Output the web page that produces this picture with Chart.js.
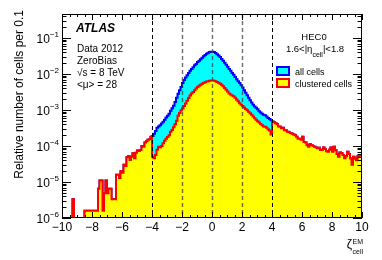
<!DOCTYPE html>
<html>
<head>
<meta charset="utf-8">
<script src="https://cdn.jsdelivr.net/npm/chart.js@4"></script>
<style>
  html, body { margin: 0; padding: 0; background: #fff; }
  canvas { display: block; }
</style>
</head>
<body>
<canvas id="chart" width="382" height="260"></canvas>
<script>
// histogram bins of 0.1 from -10 to 10 (200 bins)
const X_MIN = -10;
const X_MAX = 10;
const BIN_WIDTH = 0.1;
const Y_MIN = 1e-6;
const Y_MAX = 0.464;

// |zeta| > 4: every cell is clustered, so both histograms agree there
const tailLeft = [
  0, 0, 0, 0, 0, 0, 0, 3.3e-6, 0, 0, 0, 0, 0, 0, 0,
  1.6e-6, 1.6e-6, 1.6e-6, 1.6e-6, 1.6e-6, 1.6e-6, 1.6e-6, 1.6e-6, 1.6e-6,
  6.5e-6, 1.1e-5, 1.1e-5, 1.6e-6, 4.9e-6, 1.1e-5, 4.9e-6, 6.5e-6, 6.5e-6, 3.3e-6,
  3.3e-6, 3.3e-6, 1.6e-5, 1.6e-5, 1.3e-5, 2.0e-5, 1.8e-5, 3.0e-5, 2.8e-5, 4.9e-5,
  5.2e-5, 4.1e-5, 5.0e-5, 6.3e-5, 4.6e-5, 6.5e-5, 7.5e-5, 7.3e-5, 7.8e-5, 1.0e-4,
  9.5e-5, 1.25e-4, 1.35e-4, 1.5e-4, 1.55e-4, 1.8e-4
];
const tailRight = [
  4.8e-4, 4.6e-4, 4.3e-4, 4.0e-4, 3.5e-4, 3.4e-4, 3.1e-4, 3.2e-4, 2.75e-4, 2.7e-4,
  2.5e-4, 2.4e-4, 2.3e-4, 2.2e-4, 2.1e-4, 2.0e-4, 1.8e-4, 1.6e-4, 1.6e-4, 1.5e-4,
  1.8e-4, 1.3e-4, 1.26e-4, 1.05e-4, 9.5e-5, 1.12e-4, 1.07e-4, 1.0e-4, 9.5e-5, 9.1e-5,
  8.7e-5, 8.9e-5, 7.8e-5, 7.9e-5, 9.1e-5, 8.3e-5, 7.2e-5, 6.9e-5, 7.9e-5, 9.1e-5,
  6.9e-5, 9.5e-5, 7.6e-5, 6.0e-5, 5.0e-5, 6.6e-5, 6.3e-5, 5.6e-5, 4.6e-5, 5.2e-5,
  6.9e-5, 6.0e-5, 4.5e-5, 3.0e-5, 5.0e-5, 4.4e-5, 4.0e-5, 5.2e-5, 5.6e-5, 5.0e-5
];
// -4 < zeta < 4
const coreAll = [
  1.9e-4, 2.2e-4, 2.6e-4, 3.2e-4, 3.5e-4, 3.8e-4, 4.2e-4, 4.7e-4, 5.4e-4, 6.2e-4,
  6.9e-4, 7.9e-4, 9.5e-4, 1.12e-3, 1.32e-3, 1.66e-3, 2.19e-3, 2.82e-3, 3.55e-3, 4.37e-3,
  5.62e-3, 6.76e-3, 7.94e-3, 9.3e-3, 1.07e-2, 1.23e-2, 1.38e-2, 1.55e-2, 1.74e-2, 1.91e-2,
  2.14e-2, 2.34e-2, 2.57e-2, 2.82e-2, 3.09e-2, 3.39e-2, 3.63e-2, 3.89e-2, 4.07e-2, 4.17e-2,
  4.17e-2, 4.07e-2, 3.80e-2, 3.55e-2, 3.24e-2, 2.95e-2, 2.63e-2, 2.34e-2, 2.04e-2, 1.82e-2,
  1.58e-2, 1.38e-2, 1.23e-2, 1.07e-2, 9.5e-3, 8.3e-3, 7.2e-3, 6.3e-3, 5.6e-3, 4.9e-3,
  4.2e-3, 3.55e-3, 3.0e-3, 2.57e-3, 2.19e-3, 1.86e-3, 1.62e-3, 1.41e-3, 1.26e-3, 1.15e-3,
  1.05e-3, 9.3e-4, 8.5e-4, 7.9e-4, 7.4e-4, 7.1e-4, 6.6e-4, 6.0e-4, 5.6e-4, 5.2e-4
];
const coreClustered = [
  5.0e-5, 4.6e-5, 5.6e-5, 7.9e-5, 9.5e-5, 9.3e-5, 1.0e-4, 1.2e-4, 1.41e-4, 1.58e-4,
  1.78e-4, 2.0e-4, 2.5e-4, 2.8e-4, 3.3e-4, 4.0e-4, 5.0e-4, 6.9e-4, 8.3e-4, 9.8e-4,
  1.1e-3, 1.29e-3, 1.51e-3, 1.82e-3, 2.14e-3, 2.51e-3, 2.88e-3, 3.16e-3, 3.55e-3, 3.98e-3,
  4.37e-3, 4.68e-3, 5.0e-3, 5.4e-3, 5.6e-3, 5.9e-3, 6.2e-3, 6.3e-3, 6.5e-3, 6.6e-3,
  6.6e-3, 6.5e-3, 6.3e-3, 6.0e-3, 5.75e-3, 5.4e-3, 5.0e-3, 4.57e-3, 4.07e-3, 3.63e-3,
  3.24e-3, 2.88e-3, 2.69e-3, 2.51e-3, 2.4e-3, 2.19e-3, 1.95e-3, 1.74e-3, 1.55e-3, 1.41e-3,
  1.29e-3, 1.17e-3, 1.07e-3, 9.8e-4, 8.9e-4, 8.1e-4, 7.4e-4, 6.6e-4, 5.9e-4, 5.4e-4,
  4.9e-4, 4.5e-4, 4.1e-4, 3.8e-4, 3.5e-4, 3.4e-4, 3.2e-4, 2.9e-4, 2.7e-4, 2.1e-4
];

const allCells = tailLeft.concat(coreAll, tailRight);
const clusteredCells = tailLeft.concat(coreClustered, tailRight);

const xTickLabels = [-10, -8, -6, -4, -2, 0, 2, 4, 6, 8, 10];
const yDecades = [-6, -5, -4, -3, -2, -1];
const markerLines = [-4, -2, 0, 2, 4];
const infoLines = ['Data 2012', 'ZeroBias', '\u221As = 8 TeV', '<\u03BC> = 28'];

const FONT = '"Liberation Sans", Arial, Helvetica, sans-serif';

// bin contents -> step points at the bin edges (empty bins sit on the axis)
function toSteps(values) {
  const pts = values.map((v, i) => ({ x: X_MIN + i * BIN_WIDTH, y: v > 0 ? v : Y_MIN }));
  pts.push({ x: X_MIN + values.length * BIN_WIDTH, y: pts[pts.length - 1].y });
  return pts;
}

function minus(n) {
  return n < 0 ? '\u2212' + Math.abs(n) : String(n);
}

const decor = {
  id: 'decor',
  afterDatasetsDraw(chart) {
    const { ctx, chartArea: a, scales: { x, y } } = chart;
    ctx.save();

    // dashed markers
    markerLines.forEach((v) => {
      const px = Math.round(x.getPixelForValue(v)) + 0.5;
      const outer = Math.abs(v) === 4;
      ctx.strokeStyle = outer ? '#000' : 'rgba(60,60,60,0.75)';
      ctx.lineWidth = outer ? 1 : 1.4;
      ctx.setLineDash([4, 3]);
      ctx.beginPath();
      ctx.moveTo(px, a.top);
      ctx.lineTo(px, a.bottom);
      ctx.stroke();
    });
    ctx.setLineDash([]);

    // frame
    ctx.strokeStyle = '#000';
    ctx.lineWidth = 1;
    ctx.strokeRect(a.left + 0.5, a.top + 0.5, a.right - a.left - 1, a.bottom - a.top - 1);

    // x ticks, inside the frame, bottom and top
    ctx.beginPath();
    for (let i = 0; i <= (X_MAX - X_MIN) * 2; i++) {
      const v = X_MIN + i * 0.5;
      const px = Math.round(x.getPixelForValue(v)) + 0.5;
      const len = (i % 4 === 0) ? 6 : 3;
      ctx.moveTo(px, a.bottom);
      ctx.lineTo(px, a.bottom - len);
      ctx.moveTo(px, a.top);
      ctx.lineTo(px, a.top + len);
    }
    // y ticks, left and right
    for (let d = -6; d <= 0; d++) {
      for (let m = 1; m <= 9; m++) {
        const v = m * Math.pow(10, d);
        if (v < Y_MIN || v > Y_MAX) continue;
        const py = Math.round(y.getPixelForValue(v)) + 0.5;
        const len = m === 1 ? 9 : 4.5;
        ctx.moveTo(a.left, py);
        ctx.lineTo(a.left + len, py);
        ctx.moveTo(a.right, py);
        ctx.lineTo(a.right - len, py);
      }
    }
    ctx.stroke();
    ctx.restore();
  },
  afterDraw(chart) {
    const { ctx, chartArea: a, scales: { x, y } } = chart;
    ctx.save();
    ctx.fillStyle = '#000';
    ctx.textBaseline = 'alphabetic';

    // x tick labels
    ctx.font = '12px ' + FONT;
    ctx.textAlign = 'center';
    xTickLabels.forEach((v) => {
      ctx.fillText(minus(v), x.getPixelForValue(v), a.bottom + 13);
    });

    // y tick labels 10^n
    ctx.textAlign = 'left';
    yDecades.forEach((d) => {
      const py = y.getPixelForValue(Math.pow(10, d));
      const sup = minus(d);
      ctx.font = '8px ' + FONT;
      const ws = ctx.measureText(sup).width;
      ctx.font = '12px ' + FONT;
      const wb = ctx.measureText('10').width;
      const right = a.left - 3;
      ctx.fillText('10', right - ws - wb, py + 5);
      ctx.font = '8px ' + FONT;
      ctx.fillText(sup, right - ws, py - 1);
    });

    // y title
    ctx.save();
    ctx.translate(22.5, 10);
    ctx.rotate(-Math.PI / 2);
    ctx.textAlign = 'right';
    ctx.font = '12px ' + FONT;
    ctx.fillText('Relative number of cells per 0.1', 0, 0);
    ctx.restore();

    // x title zeta^EM_cell
    ctx.textAlign = 'left';
    ctx.font = '7px ' + FONT;
    const wScript = Math.max(ctx.measureText('EM').width, ctx.measureText('cell').width);
    const sx = a.right + 1 - wScript;
    ctx.fillText('EM', sx, 243.5);
    ctx.fillText('cell', sx, 253.5);
    ctx.font = '12px ' + FONT;
    const wz = ctx.measureText('\u03B6').width;
    ctx.fillText('\u03B6', sx - wz - 0.5, 248);

    // ATLAS block
    ctx.font = 'italic bold 12px ' + FONT;
    ctx.fillText('ATLAS', 76, 32);
    ctx.font = '10px ' + FONT;
    infoLines.forEach((t, i) => ctx.fillText(t, 77, 52 + i * 12));

    // HEC0 block
    ctx.textAlign = 'center';
    ctx.font = '9.5px ' + FONT;
    ctx.fillText('HEC0', 314, 40);
    const p1 = '1.6<|\u03B7', p2 = '|<1.8', sub = 'cell';
    const w1 = ctx.measureText(p1).width, w2 = ctx.measureText(p2).width;
    ctx.font = '7px ' + FONT;
    const wsub = ctx.measureText(sub).width;
    let tx = 315 - (w1 + wsub + w2) / 2;
    ctx.textAlign = 'left';
    ctx.font = '9.5px ' + FONT;
    ctx.fillText(p1, tx, 52);
    ctx.font = '7px ' + FONT;
    ctx.fillText(sub, tx + w1, 56.5);
    ctx.font = '9.5px ' + FONT;
    ctx.fillText(p2, tx + w1 + wsub, 52);

    // legend
    const legend = [
      { label: 'all cells', fill: '#00ffff', line: '#0000ff', y: 67 },
      { label: 'clustered cells', fill: '#ffff00', line: '#ff0000', y: 79 }
    ];
    legend.forEach((l) => {
      ctx.fillStyle = l.fill;
      ctx.fillRect(277, l.y, 12, 8);
      ctx.strokeStyle = l.line;
      ctx.lineWidth = 2;
      ctx.strokeRect(277, l.y, 12, 8);
      ctx.fillStyle = '#000';
      ctx.font = '9px ' + FONT;
      ctx.fillText(l.label, 295, l.y + 7.5);
    });
    ctx.restore();
  }
};

new Chart(document.getElementById('chart'), {
  type: 'line',
  data: {
    datasets: [
      {
        label: 'all cells',
        data: toSteps(allCells),
        stepped: true,
        borderColor: '#0000ff',
        backgroundColor: '#00ffff',
        borderWidth: 2,
        pointRadius: 0,
        fill: 'start',
        order: 2
      },
      {
        label: 'clustered cells',
        data: toSteps(clusteredCells),
        stepped: true,
        borderColor: '#ff0000',
        backgroundColor: '#ffff00',
        borderWidth: 2,
        pointRadius: 0,
        fill: 'start',
        order: 1
      }
    ]
  },
  options: {
    responsive: false,
    devicePixelRatio: 1,
    animation: false,
    layout: { padding: { left: 62, right: 20, top: 14, bottom: 42 } },
    plugins: { legend: { display: false }, tooltip: { enabled: false } },
    scales: {
      x: { type: 'linear', min: X_MIN, max: X_MAX, display: false },
      y: { type: 'logarithmic', min: Y_MIN, max: Y_MAX, display: false }
    }
  },
  plugins: [decor]
});
</script>
</body>
</html>
